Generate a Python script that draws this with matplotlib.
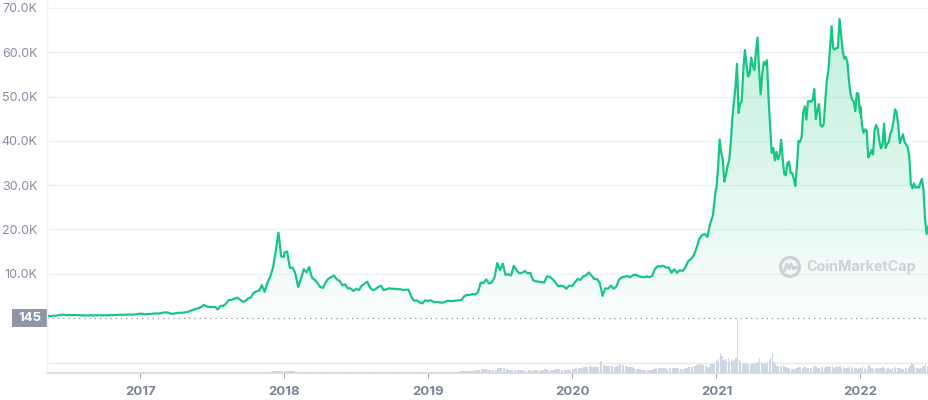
import numpy as np
import pandas as pd
import matplotlib
matplotlib.use("Agg")
import matplotlib.pyplot as plt
import matplotlib.dates as mdates
from matplotlib.patches import Polygon, Circle, Rectangle
from matplotlib.lines import Line2D
from matplotlib.transforms import IdentityTransform

# ---------------- data (USD close) ----------------
price_2016 = [450, 460, 455, 445, 530, 575, 700, 760, 650, 680, 650, 670, 660, 620,
              590, 570, 580, 575, 610, 605, 610, 600, 610, 617, 640, 655, 700,
              710, 705, 730, 730, 765, 775, 790, 890]
price_2017 = [1000, 900, 820, 920, 920, 1020, 1000, 1050, 1190, 1270, 1230, 970, 970,
              1100, 1190, 1180, 1250, 1350, 1580, 1800, 2050, 2200, 2500, 2950, 2600, 2500,
              2500, 2500, 1950, 2750, 2750, 3250, 4050, 4100, 4350, 4600, 4200, 3700, 3800,
              4400, 4600, 5700, 6000, 6150, 7400, 5900, 8000, 9300,
              11300, 15000, 19300, 13900, 13800]
price_2018 = [14800, 15000, 11300, 11400, 10000, 7000, 8800, 11000, 10300,
              11500, 9100, 8600, 7900, 7000, 6800, 8100, 8900, 9250, 9600, 8700, 8400, 7400,
              7600, 6700, 6700, 6100, 6600, 6300, 7300, 7700, 8200, 6900, 6300, 6500, 7000,
              7300, 6300, 6500, 6700, 6600, 6600, 6500, 6500, 6300, 6400, 6400, 4800, 3900,
              4000, 3500, 3300, 4000, 3800]
price_2019 = [3900, 4000, 3600, 3600, 3550, 3450, 3650, 3900, 3800, 3850, 3900, 4000, 4050,
              4900, 5200, 5200, 5400, 5300, 5800, 8000, 7900, 8700, 7800, 8000, 9200, 12400,
              10800, 12300, 9700, 9900, 9600, 11800, 10800, 10100, 10200,
              10600, 10100, 10200, 8500, 8300, 8200, 8100, 8000, 9400,
              9300, 8800, 8100, 7200, 7300, 7200, 6600, 7300, 7200]
price_2020 = [7200, 8100, 8800, 8600, 9400, 9600, 10300, 9600, 8800, 8800, 7900, 5000, 6700,
              6600, 7300, 6600, 7100, 8700, 9200, 9300, 9500, 9200, 9650, 9800, 9450, 9300,
              9200, 9400, 9200, 9500, 11100, 11700, 11600, 11800, 11400,
              11400, 10200, 11000, 10200, 10800, 10600, 11400, 12800, 13300,
              14100, 15700, 17800, 18700, 19000, 18300, 21300, 23200, 28900]
price_2021 = [29400, 34000, 40300, 37300, 35800, 30800, 32300, 34300,
              35500, 39300, 44900, 48700, 52100, 57400, 46300,
              48400, 48900, 55900, 60500, 57600, 54500, 55100, 58800,
              57000, 56000, 60000, 63300, 56200, 50500, 55000,
              57800, 57200, 58200, 49700, 43500, 37300, 38400, 35600,
              37500, 35800, 36900, 40200, 35800, 32500, 32200, 35000,
              35300, 32800, 32700, 31500, 29800, 34200, 40000,
              39800, 40900, 46400, 47800, 44800, 48900, 49000, 48800,
              49300, 51700, 44900, 47000, 48300, 43500, 43200, 43800,
              49100, 53800, 56000, 60800, 65900, 60900, 60600,
              61000, 61000, 67500, 64100, 60300, 58600, 58900, 57800,
              53600, 50600, 49300, 48900, 46700, 50800, 50600, 46300]
price_2022 = [47700, 43500, 41800, 42600, 42200, 36300, 36900, 37900,
              36900, 42400, 43600, 42600, 40000, 38300, 39100,
              43900, 38400, 39300, 39700, 41800, 42400, 44500, 47100,
              46400, 43500, 39500, 40500, 41500, 39700, 39200,
              38500, 36500, 30300, 29300, 30400, 29400, 29600, 29400,
              30500, 31400, 29000, 22200, 19000, 20600]

# volume, billions USD
vol_2016 = [0.08, 0.15, 0.1, 0.09, 0.07, 0.08, 0.1, 0.12]
vol_2017 = [0.2, 0.15, 0.3, 0.35, 0.9, 1.4, 1.0, 1.8, 1.9, 1.7, 3.5, 13]
vol_2018 = [11, 7, 6, 5.5, 6.5, 4.5, 4.5, 4.5, 4.5, 3.8, 5.5, 5]
vol_2019 = [5, 5, 6, 6, 6, 6, 7, 8, 9, 9, 9, 10, 10, 14, 16, 15, 16, 17, 18, 25, 24, 22,
            19, 18, 22, 30, 34, 30, 26, 22, 18, 18, 20, 19, 17, 16, 17, 15, 20,
            17, 16, 17, 28, 22, 21, 20, 23, 24, 20, 18, 22, 20, 19]
vol_2020 = [28, 32, 35, 33, 36, 38, 42, 40, 38, 40, 75, 50, 45, 44, 42, 40, 42, 55,
            50, 48, 40, 38, 30, 28, 25, 22, 20, 22, 21, 24, 35, 30, 33, 30, 28,
            30, 35, 32, 30, 28, 28, 30, 38, 40, 42, 50, 55, 52, 45, 40, 55, 60, 68]
vol_2021 = [75, 95, 130, 110, 85, 90, 80, 95,
            70, 90, 80, 85, 95, 350, 85,
            70, 60, 65, 60, 55, 55, 50, 55,
            60, 58, 62, 68, 100, 70, 55,
            65, 60, 70, 85, 95, 130, 70, 55,
            48, 45, 40, 42, 50, 38, 40, 35,
            30, 28, 25, 22, 30, 35, 40,
            38, 35, 40, 38, 33, 35, 33, 30,
            38, 45, 42, 35, 35, 40, 38, 32,
            40, 42, 38, 45, 45, 35, 38,
            40, 38, 42, 35, 38, 32, 30, 35,
            45, 40, 32, 35, 30, 28, 30, 32]
vol_2022 = [32, 45, 28, 30, 27, 50, 40, 30,
            28, 35, 30, 28, 30, 35, 40,
            35, 28, 30, 25, 28, 30, 35, 38,
            32, 30, 35, 28, 25, 30, 32,
            35, 42, 65, 55, 38, 33, 30, 28,
            35, 38, 45, 60, 48, 40]

y_ticks = [10000, 20000, 30000, 40000, 50000, 60000, 70000]
year_ticks = ["2017", "2018", "2019", "2020", "2021", "2022"]
base_label = "145"


def series(values, start, end, freq):
    idx = pd.date_range(start, periods=len(values), freq=freq)
    s = pd.Series(values, index=idx, dtype=float)
    return s[s.index < pd.Timestamp(end)]


price = pd.concat([
    series(price_2016, "2016-05-01", "2017-01-01", "7D"),
    series(price_2017, "2017-01-01", "2018-01-01", "7D"),
    series(price_2018, "2018-01-01", "2019-01-01", "7D"),
    series(price_2019, "2019-01-01", "2020-01-01", "7D"),
    series(price_2020, "2020-01-01", "2021-01-01", "7D"),
    series(price_2021, "2021-01-01", "2022-01-01", "4D"),
    series(price_2022, "2022-01-01", "2022-06-25", "4D"),
])
vol_parts = [
    (series(vol_2016, "2016-05-01", "2017-01-01", "MS"), 28),
    (series(vol_2017, "2017-01-01", "2018-01-01", "MS"), 28),
    (series(vol_2018, "2018-01-01", "2019-01-01", "MS"), 28),
    (series(vol_2019, "2019-01-01", "2020-01-01", "7D"), 6),
    (series(vol_2020, "2020-01-01", "2021-01-01", "7D"), 6),
    (series(vol_2021, "2021-01-01", "2022-01-01", "4D"), 3.4),
    (series(vol_2022, "2022-01-01", "2022-06-25", "4D"), 3.4),
]

# ---------------- figure ----------------
W, H = 929, 400
fig = plt.figure(figsize=(W / 100, H / 100), dpi=100)
fig.patch.set_facecolor("white")
plt.rcParams["font.family"] = ["Inter", "DejaVu Sans"]

left_px, right_px = 47, 929
price_bottom_px = 318   # y (from top) of zero price
vol_bottom_px = 373

ax = fig.add_axes([left_px / W, (H - price_bottom_px) / H,
                   (right_px - left_px) / W, price_bottom_px / H])
vax = fig.add_axes([left_px / W, (H - vol_bottom_px) / H,
                    (right_px - left_px) / W, (vol_bottom_px - price_bottom_px) / H])

xmin = mdates.date2num(pd.Timestamp("2016-05-09"))
xmax = mdates.date2num(pd.Timestamp("2022-06-24"))
ymax = 70000 + 8 / 44.3 * 10000

green = "#16c784"
xd = mdates.date2num(price.index)
yd = price.values

# gradient fill
grad = np.linspace(0, 1, 300).reshape(-1, 1)
rgba = np.zeros((300, 1, 4))
rgba[..., 0] = 22 / 255
rgba[..., 1] = 199 / 255
rgba[..., 2] = 132 / 255
rgba[..., 3] = (0.02 + 0.27 * grad[:, :1])
im = ax.imshow(rgba, extent=[xmin, xmax, 0, ymax], aspect="auto", origin="lower",
               zorder=1, interpolation="bilinear")
verts = np.vstack([[xd[0], 0], np.column_stack([xd, yd]), [xd[-1], 0]])
poly = Polygon(verts, closed=True, facecolor="none", edgecolor="none",
               transform=ax.transData)
ax.add_patch(poly)
im.set_clip_path(poly)

ax.plot(xd, yd, color=green, lw=1.6, zorder=3, solid_joinstyle="round")

for t in y_ticks:
    ax.axhline(t, color="#eff2f5", lw=1, zorder=0)
ax.axhline(0, color="#8e96a5", lw=0.9, ls=(0, (1, 3.2)), zorder=2, clip_on=False)

ax.set_xlim(xmin, xmax)
ax.set_ylim(0, ymax)
ax.set_yticks(y_ticks)
ax.set_yticklabels([f"{t / 1000:.1f}K" for t in y_ticks])
ax.tick_params(axis="y", length=0, pad=7, labelsize=9, labelcolor="#858ca2")
ax.set_xticks([])
for s in ax.spines.values():
    s.set_visible(False)
ax.set_facecolor("none")

# volume
for s, w in vol_parts:
    vax.bar(mdates.date2num(s.index), s.values, width=w, align="edge",
            color="#cfd6e4", edgecolor="none", zorder=2)
vax.set_xlim(xmin, xmax)
vax.set_ylim(0, 355)
vax.axhline(355 * 10 / 55, color="#e6e9ef", lw=1, zorder=1)
vax.set_yticks([])
for k, s in vax.spines.items():
    s.set_visible(k == "bottom")
vax.spines["bottom"].set_color("#d3d8e0")
vax.spines["bottom"].set_linewidth(1.2)
yt = [mdates.date2num(pd.Timestamp(f"{y}-01-01")) for y in year_ticks]
vax.set_xticks(yt)
vax.set_xticklabels(year_ticks)
vax.tick_params(axis="x", length=3.5, width=0.8, color="#a0a7b6", pad=6,
                labelsize=9.5, labelcolor="#7c8396")
for lab in vax.get_xticklabels():
    lab.set_fontweight("bold")
vax.set_facecolor("none")

# left border line
fig.add_artist(Line2D([left_px / W, left_px / W], [(H - vol_bottom_px) / H, 1],
                      transform=fig.transFigure, color="#eceff3", lw=1))

# base price label
fig.add_artist(Rectangle((12 / W, (H - 327) / H), 35 / W, 18 / H,
                         transform=fig.transFigure, facecolor="#8f96a6",
                         edgecolor="none"))
fig.text(29.5 / W, (H - 318) / H, base_label, color="white", fontsize=9.5,
         fontweight="bold", ha="center", va="center")

# watermark
cx, cy = 790, H - 267
fig.add_artist(Circle((cx, cy), 9.5, transform=IdentityTransform(),
                      facecolor="none", edgecolor="#cdd1d9", lw=2.2))
mx = np.array([-5.5, -3.5, -1, 1, 3.5, 5.5, 7])
my = np.array([-4, 3, -2, 3, -2, 0, -1])
fig.add_artist(Line2D(cx + mx, cy + my, transform=IdentityTransform(),
                      color="#cdd1d9", lw=2))
fig.text(806 / W, (H - 267) / H, "CoinMarketCap", color="#cdd1d9", fontsize=10.3,
         fontweight="bold", ha="left", va="center")

fig.savefig("out.png", dpi=100, facecolor="white")
